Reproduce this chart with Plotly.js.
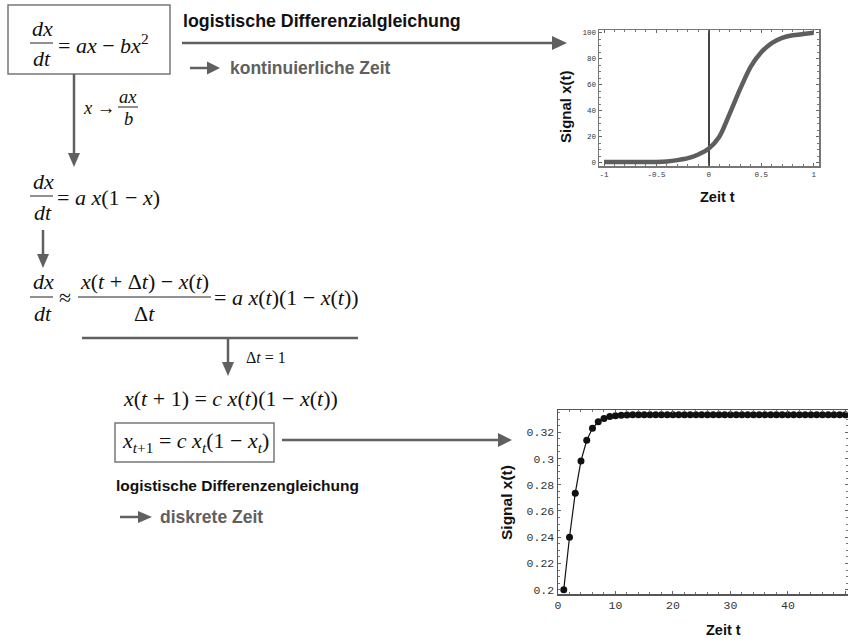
<!DOCTYPE html>
<html><head><meta charset="utf-8">
<script src="https://cdn.plot.ly/plotly-3.0.1.min.js"></script>
<style>html,body{margin:0;padding:0;background:#fff}#chart{width:848px;height:642px}</style>
</head><body><div id="chart"></div>
<script>
// ---- data ----
const contT = [-1,-0.9,-0.8,-0.7,-0.6,-0.5,-0.4,-0.3,-0.2,-0.1,0,0.1,0.2,0.3,0.4,0.5,0.6,0.7,0.8,0.9,1];
const contX = [0.5,0.5,0.5,0.5,0.5,0.6,1.0,2.0,3.5,6.4,11,20,38,57,74,85,92,96,98,99,100];
const discT = [1,2,3,4,5,6,7,8,9,10,11,12,13,14,15,16,17,18,19,20,21,22,23,24,25,26,27,28,29,30,31,32,33,34,35,36,37,38,39,40,41,42,43,44,45,46,47,48,49,50];
const discX = [0.2,0.24,0.2736,0.2982,0.3139,0.3230,0.3280,0.3306,0.3320,0.3326,0.3330,0.3332,0.3333,0.3333,0.3333,0.3333,0.3333,0.3333,0.3333,0.3333,
  0.3333,0.3333,0.3333,0.3333,0.3333,0.3333,0.3333,0.3333,0.3333,0.3333,0.3333,0.3333,0.3333,0.3333,0.3333,0.3333,0.3333,0.3333,0.3333,0.3333,
  0.3333,0.3333,0.3333,0.3333,0.3333,0.3333,0.3333,0.3333,0.3333,0.3333];
const topXTicks = [-1,-0.5,0,0.5,1];
const topXTickText = ['-1','-0.5','0','0.5','1'];
const topYTicks = [0,20,40,60,80,100];
const botXTicks = [0,10,20,30,40,50];
const botYTicks = [0.2,0.22,0.24,0.26,0.28,0.3,0.32];
const botYTickText = ['0.2','0.22','0.24','0.26','0.28','0.3','0.32'];

// ---- helpers (pixel -> paper) ----
const W = 848, H = 642;
const X = p => p / W;
const Y = p => 1 - p / H;
const SERIF = 'Liberation Serif, Times New Roman, serif';
const SANS = 'Liberation Sans, Arial, sans-serif';
const GRAY = '#606060';
const EQ = 22;

const annotations = [];
function txt(x, y, text, opt) {
  opt = opt || {};
  annotations.push({xref:'paper', yref:'paper', x:X(x), y:Y(y), text:text, showarrow:false,
    xanchor: opt.xa || 'center', yanchor:'middle', borderpad:0,
    font:{family: opt.family || SERIF, size: opt.size || EQ, color: opt.color || '#111'}});
}
const shapes = [];
function line(x0, y0, x1, y1, color, width) {
  shapes.push({type:'line', xref:'paper', yref:'paper', x0:X(x0), y0:Y(y0), x1:X(x1), y1:Y(y1),
    line:{color: color || '#555', width: width || 2}});
}
function tri(pts, color) {
  const p = pts.map((q, i) => (i ? 'L' : 'M') + X(q[0]) + ',' + Y(q[1])).join(' ') + ' Z';
  shapes.push({type:'path', xref:'paper', yref:'paper', path:p, fillcolor: color || '#555', line:{width:0}});
}
function rect(x0, y0, x1, y1) {
  shapes.push({type:'rect', xref:'paper', yref:'paper', x0:X(x0), y0:Y(y0), x1:X(x1), y1:Y(y1),
    line:{color:'#777', width:1.5}, fillcolor:'rgba(0,0,0,0)'});
}

// Box 1: dx/dt = ax - bx^2
rect(8, 5, 170, 74);
txt(42, 28, '<i>dx</i>');
line(30, 43, 53, 43, '#222', 1);
txt(42, 59, '<i>dt</i>');
txt(57, 44, '= <i>ax</i> − <i>bx</i><sup>2</sup>', {xa:'left'});

txt(182, 21, '<b>logistische Differenzialgleichung</b>', {xa:'left', family:SANS, size:17.8, color:'#111'});
line(182, 43, 554, 43, GRAY, 2.5);
tri([[552,36],[552,50],[567,43]], GRAY);
line(190, 68, 209, 68, GRAY, 2.5);
tri([[207,61.5],[207,74.5],[220,68]], GRAY);
txt(229, 68, '<b>kontinuierliche Zeit</b>', {xa:'left', family:SANS, size:17.5, color:GRAY});

// substitution arrow
line(74, 74, 74, 154, GRAY, 2.5);
tri([[68,153],[80,153],[74,167]], GRAY);
txt(82, 108, '<i>x</i> →', {xa:'left', size:18.5});
txt(128, 97, '<i>ax</i>', {size:18.5});
line(118, 107, 138, 107, '#222', 1);
txt(128, 119, '<i>b</i>', {size:18.5});

// Row 2
txt(43, 182, '<i>dx</i>');
line(30, 196, 53, 196, '#222', 1);
txt(43, 212, '<i>dt</i>');
txt(56, 197, '= <i>a x</i>(1 − <i>x</i>)', {xa:'left'});

line(43, 230, 43, 255, GRAY, 2.5);
tri([[37,254],[49,254],[43,268]], GRAY);

// Row 3
txt(43, 282, '<i>dx</i>');
line(30, 297, 53, 297, '#222', 1);
txt(43, 313, '<i>dt</i>');
txt(65, 298, '≈');
txt(144, 282, '<i>x</i>(<i>t</i> + Δ<i>t</i>) − <i>x</i>(<i>t</i>)');
line(78, 297, 211, 297, '#222', 1);
txt(144, 313, 'Δ<i>t</i>');
txt(213, 298, '= <i>a x</i>(<i>t</i>)(1 − <i>x</i>(<i>t</i>))', {xa:'left'});

line(82, 338, 358, 338, GRAY, 2.5);
line(228, 338, 228, 363, GRAY, 2.5);
tri([[222,362],[234,362],[228,376]], GRAY);
txt(245, 357, 'Δ<i>t</i> = 1', {xa:'left', size:16});

// Row 4
txt(122, 398, '<i>x</i>(<i>t</i> + 1) = <i>c x</i>(<i>t</i>)(1 − <i>x</i>(<i>t</i>))', {xa:'left'});
rect(115, 423, 274, 462);
txt(121, 442, '<i>x</i><sub><i>t</i>+1</sub> = <i>c x</i><sub><i>t</i></sub>(1 − <i>x</i><sub><i>t</i></sub>)', {xa:'left'});
line(282, 440, 500, 440, GRAY, 2.5);
tri([[498,433],[498,447],[512,440]], GRAY);

txt(115, 485, '<b>logistische Differenzengleichung</b>', {xa:'left', family:SANS, size:15.5, color:'#111'});
line(120, 517, 140, 517, GRAY, 2.5);
tri([[138,511],[138,523],[152,517]], GRAY);
txt(159, 517, '<b>diskrete Zeit</b>', {xa:'left', family:SANS, size:17.5, color:GRAY});

// axis titles
function vtitle(x, y, t, s) {
  annotations.push({xref:'paper', yref:'paper', x:X(x), y:Y(y), text:'<b>'+t+'</b>', showarrow:false,
    textangle:-90, xanchor:'center', yanchor:'middle', font:{family:SANS, size:s, color:'#111'}});
}
vtitle(566, 107, 'Signal x(t)', 15);
txt(717, 197, '<b>Zeit t</b>', {family:SANS, size:14.5});
vtitle(506, 503, 'Signal x(t)', 15.5);
txt(723, 630, '<b>Zeit t</b>', {family:SANS, size:14.5});

const traces = [
  {x:contT, y:contX, type:'scatter', mode:'lines', xaxis:'x', yaxis:'y',
   line:{color:'#5e5e5e', width:4.5, shape:'spline', smoothing:0.8}, hoverinfo:'skip'},
  {x:discT, y:discX, type:'scatter', mode:'lines+markers', xaxis:'x2', yaxis:'y2',
   line:{color:'#111', width:1.2}, marker:{color:'#111', size:7}, hoverinfo:'skip'}
];

const monoTop = {family:'Liberation Mono, Courier New, monospace', size:7.5, color:'#333'};
const monoBot = {family:'Liberation Mono, Courier New, monospace', size:11.5, color:'#333'};
const axBase = {showgrid:false, showline:true, linecolor:'#777', linewidth:1.5, mirror:'allticks',
  ticks:'inside', tickcolor:'#666', ticklen:3, fixedrange:true};

const layout = {
  width:W, height:H, margin:{l:0, r:0, t:0, b:0}, showlegend:false,
  paper_bgcolor:'#fff', plot_bgcolor:'#fff',
  xaxis: Object.assign({}, axBase, {domain:[X(599), X(819)], anchor:'y', range:[-1.048, 1.051],
    tickmode:'array', tickvals:topXTicks, ticktext:topXTickText, tickfont:monoTop,
    zeroline:true, zerolinecolor:'#444', zerolinewidth:1.5,
    minor:{dtick:0.1, ticks:'inside', ticklen:2, tickcolor:'#777'}}),
  yaxis: Object.assign({}, axBase, {domain:[Y(166), Y(30)], anchor:'x', range:[-2.5, 102.1],
    tickmode:'array', tickvals:topYTicks, tickfont:monoTop, zeroline:false,
    minor:{dtick:5, ticks:'inside', ticklen:2, tickcolor:'#777'}}),
  xaxis2: Object.assign({}, axBase, {domain:[X(558), 1], anchor:'y2', range:[0, 50.45],
    tickmode:'array', tickvals:botXTicks, tickfont:monoBot, zeroline:false, linecolor:'#555',
    minor:{dtick:2, ticks:'inside', ticklen:2, tickcolor:'#777'}}),
  yaxis2: Object.assign({}, axBase, {domain:[Y(594), Y(410)], anchor:'x2', range:[0.1967, 0.337],
    tickmode:'array', tickvals:botYTicks, ticktext:botYTickText, tickfont:monoBot, zeroline:false, linecolor:'#555',
    minor:{dtick:0.005, ticks:'inside', ticklen:2, tickcolor:'#777'}}),
  annotations: annotations,
  shapes: shapes
};

Plotly.newPlot('chart', traces, layout, {displayModeBar:false, staticPlot:true});
</script>
</body></html>
